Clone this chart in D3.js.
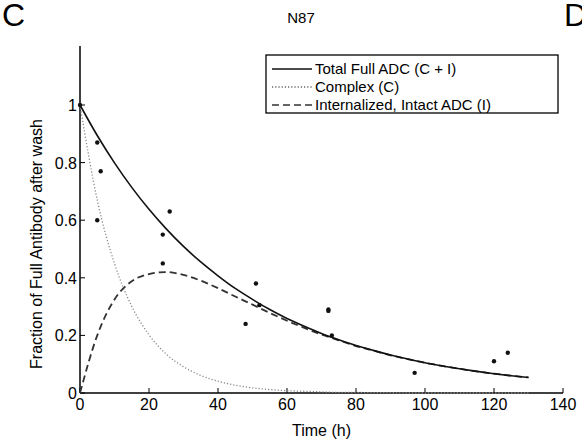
<!DOCTYPE html>
<html><head><meta charset="utf-8">
<script src="https://cdn.jsdelivr.net/npm/d3@7"></script>
<style>body{margin:0;background:#fff}text{font-family:"Liberation Sans",Arial,sans-serif}</style>
</head><body><svg id="c" width="582" height="443"></svg>
<script>
const times = [0,5,10,15,20,25,30,35,40,45,50,55,60,65,70,75,80,85,90,95,100,105,110,115,120,125,130];
const totalFit = [1,.894,.799,.714,.638,.570,.509,.455,.407,.363,.325,.290,.259,.232,.207,.185,.165,.148,.132,.118,.105,.094,.084,.075,.067,.060,.054];
const complexFit = [1,.670,.449,.301,.202,.135,.091,.061,.041,.027,.018,.012,.008,.006,.004,.002,.002,.001,.001,0,0,0,0,0,0,0,0];
const internalFit = [0,.2,.325,.388,.413,.42,.41,.39,.364,.335,.307,.278,.251,.226,.203,.183,.163,.147,.131,.118,.105,.094,.084,.075,.067,.060,.054];
const obsT = [0,5,6,5,24,24,26,48,51,52,72,72,73,97,120,124];
const obsY = [1,.87,.77,.6,.55,.45,.63,.24,.38,.305,.29,.285,.2,.07,.11,.14];
const xTicks = [0,20,40,60,80,100,120,140];
const yTicks = [0,0.2,0.4,0.6,0.8,1];

const svg = d3.select('#c');
const x = d3.scaleLinear().domain([0,140]).range([80,563]);
const y = d3.scaleLinear().domain([0,1]).range([393,105]);

svg.append('text').attr('x',2).attr('y',26).attr('font-size',32).text('C');
svg.append('text').attr('x',564).attr('y',26).attr('font-size',32).text('D');
svg.append('text').attr('x',301).attr('y',23).attr('font-size',15).attr('text-anchor','middle').text('N87');

const g = svg.append('g');
g.append('line').attr('x1',x(0)).attr('x2',x(140)).attr('y1',y(0)).attr('y2',y(0)).attr('stroke','#000').attr('stroke-width',1.5);
g.append('line').attr('x1',x(0)).attr('x2',x(0)).attr('y1',y(0)).attr('y2',46).attr('stroke','#000').attr('stroke-width',1.5);
xTicks.forEach(t=>{
  g.append('line').attr('x1',x(t)).attr('x2',x(t)).attr('y1',y(0)).attr('y2',y(0)-5).attr('stroke','#000');
  g.append('text').attr('x',x(t)).attr('y',y(0)+17).attr('font-size',16).attr('text-anchor','middle').text(t);
});
yTicks.forEach(t=>{
  g.append('line').attr('x1',x(0)).attr('x2',x(0)+5).attr('y1',y(t)).attr('y2',y(t)).attr('stroke','#000');
  g.append('text').attr('x',x(0)-3).attr('y',y(t)+6).attr('font-size',16).attr('text-anchor','end').text(t);
});
svg.append('text').attr('x',x(70)).attr('y',436).attr('font-size',16).attr('text-anchor','middle').text('Time (h)');
svg.append('text').attr('transform',`translate(42,${y(0.5)-5}) rotate(-90)`).attr('font-size',16).attr('text-anchor','middle').text('Fraction of Full Antibody after wash');

const line = vals => d3.line().x((d,i)=>x(times[i])).y(d=>y(d)).curve(d3.curveMonotoneX)(vals);
svg.append('path').attr('d',line(complexFit)).attr('fill','none').attr('stroke','#888').attr('stroke-width',1.3).attr('stroke-dasharray','1.2,2');
svg.append('path').attr('d',line(internalFit)).attr('fill','none').attr('stroke','#333').attr('stroke-width',1.8).attr('stroke-dasharray','7,4');
svg.append('path').attr('d',line(totalFit)).attr('fill','none').attr('stroke','#111').attr('stroke-width',1.6);

svg.selectAll('circle').data(obsT).enter().append('circle')
  .attr('cx',d=>x(d)).attr('cy',(d,i)=>y(obsY[i])).attr('r',2.2).attr('fill','#111');

const lg = svg.append('g');
lg.append('rect').attr('x',266).attr('y',55).attr('width',292).attr('height',58).attr('fill','#fff').attr('stroke','#000').attr('stroke-width',1.3);
const items = [['Total Full ADC (C + I)','none','#111'],['Complex (C)','1.2,2','#666'],['Internalized, Intact ADC (I)','7,4','#333']];
items.forEach((it,i)=>{
  const yy = 69 + i*18;
  lg.append('line').attr('x1',272).attr('x2',312).attr('y1',yy).attr('y2',yy).attr('stroke',it[2]).attr('stroke-width',1.6).attr('stroke-dasharray',it[1]);
  lg.append('text').attr('x',315).attr('y',yy+5).attr('font-size',15).text(it[0]);
});
</script></body></html>
